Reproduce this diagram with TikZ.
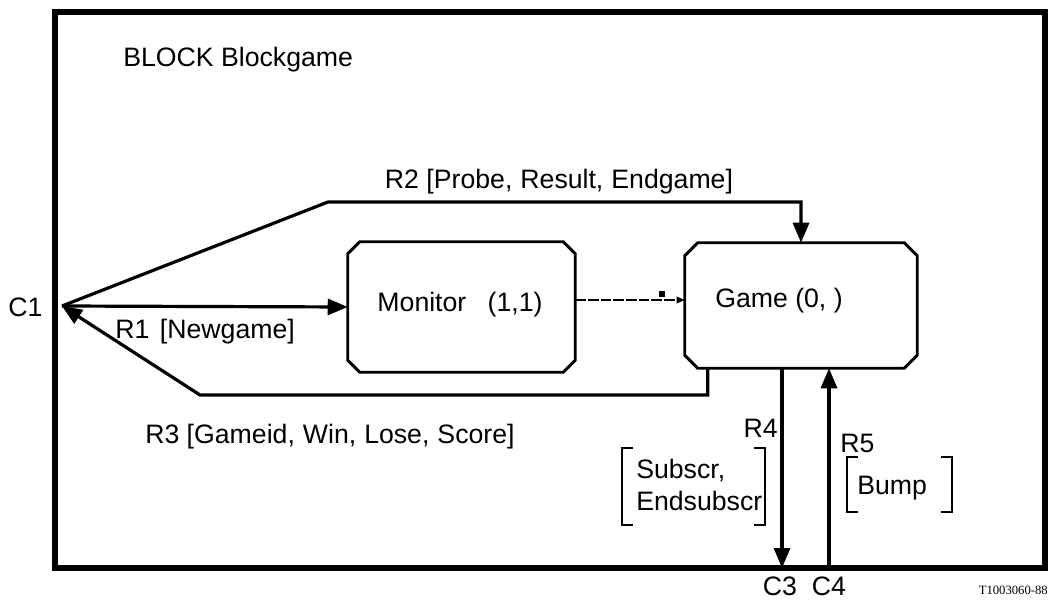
\documentclass[tikz,border=0pt]{standalone}
\usepackage{fontspec}
\setmainfont{Liberation Sans}
\newfontfamily\tagfont{Liberation Serif}
\usetikzlibrary{arrows.meta,calc}

% outline with cut corners around a named node
\newcommand\cutbox[2]{%
  \draw[boxline] ($(#1.north west)+(#2,0)$) -- ($(#1.north east)+(-#2,0)$)
    -- ($(#1.north east)+(0,#2)$) -- ($(#1.south east)+(0,-#2)$)
    -- ($(#1.south east)+(-#2,0)$) -- ($(#1.south west)+(#2,0)$)
    -- ($(#1.south west)+(0,-#2)$) -- ($(#1.north west)+(0,#2)$) -- cycle;}

\begin{document}
\begin{tikzpicture}[x=0.75pt,y=-0.75pt,
  lbl/.style={font=\fontsize{20}{24}\selectfont, inner sep=0pt},
  procbox/.style={rectangle, draw=none, inner sep=0pt},
  boxline/.style={line width=2.2pt, line join=miter},
  conn/.style={line width=2.4pt, -{Triangle[length=15pt,width=12pt]}},
  bracket/.style={line width=1.6pt},
]
\useasboundingbox (0,0) rectangle (1051,606);

% block frame
\draw[line width=3.8pt] (55,12) rectangle (1045,568);
\coordinate (c1) at (62,306);
\coordinate (c3) at (782,568);
\coordinate (c4) at (829,568);

\node[lbl, anchor=west] (title) at (123,60) {BLOCK Blockgame};

% processes
\node[procbox, minimum width=170.25pt, minimum height=97.5pt] (mon) at (461.5,307) {};
\cutbox{mon}{12}
\node[lbl] (montxt) at (460,305) {Monitor\hspace{0.8em}(1,1)};
\node[procbox, minimum width=174pt, minimum height=93.75pt] (game) at (801,305.5) {};
\cutbox{game}{13}
\node[lbl, anchor=west] (gametxt) at (715,301) {Game (0, )};

% routes
\draw[conn] (c1) -- (mon.west);
\draw[conn] (c1) -- (328,202) -| (game.north);
\draw[conn] ($(game.south west)+(23,0)$) |- (200,395) -- (c1);
\draw[conn] ($(game.south)+(-19,0)$) -- (c3);
\draw[conn] (c4) -- ($(game.south)+(28,0)$);

% create line
\draw[line width=1.2pt, dash pattern=on 8pt off 1.5pt, -{Triangle[length=6pt,width=5pt]}]
  ($(mon.east)+(0,-7)$) -- ($(game.west)+(0,-5.5)$);
\node[fill, minimum size=5pt, inner sep=0pt] (mark) at (662,294) {};

% labels
\node[lbl, anchor=west] (cone) at (8,307) {C1};
\node[lbl] (rtwo) at (559,182) {R2 [Probe,\hspace{0.3em}Result,\hspace{0.3em}Endgame]};
\node[lbl, anchor=west] (rone) at (115,332) {R1\hspace{0.4em}[Newgame]};
\node[lbl, anchor=west] (rthree) at (145,437) {R3 [Gameid,\hspace{0.3em}Win,\hspace{0.3em}Lose,\hspace{0.3em}Score]};
\node[lbl, anchor=east] (rfour) at (778,428) {R4};
\node[lbl, anchor=west] (rfive) at (840,443) {R5};
\node[lbl, anchor=north] (cthree) at (780,577) {C3};
\node[lbl, anchor=north] (cfour) at (829,577) {C4};
\node[font=\tagfont\fontsize{9.5}{10}\selectfont, inner sep=0pt, anchor=east] (tag) at (1048,590) {T1003060-88};

% signal lists
\node[lbl, align=left, anchor=west] (subs) at (636,485) {Subscr,\\Endsubscr};
\draw[bracket] (633,448) -- (622,448) -- (622,525) -- (633,525);
\draw[bracket] (754,448) -- (765,448) -- (765,525) -- (754,525);
\node[lbl, anchor=west] (bump) at (857,488) {Bump};
\draw[bracket] (858,457) -- (847,457) -- (847,512) -- (858,512);
\draw[bracket] (941,457) -- (952,457) -- (952,512) -- (941,512);
\end{tikzpicture}
\end{document}
